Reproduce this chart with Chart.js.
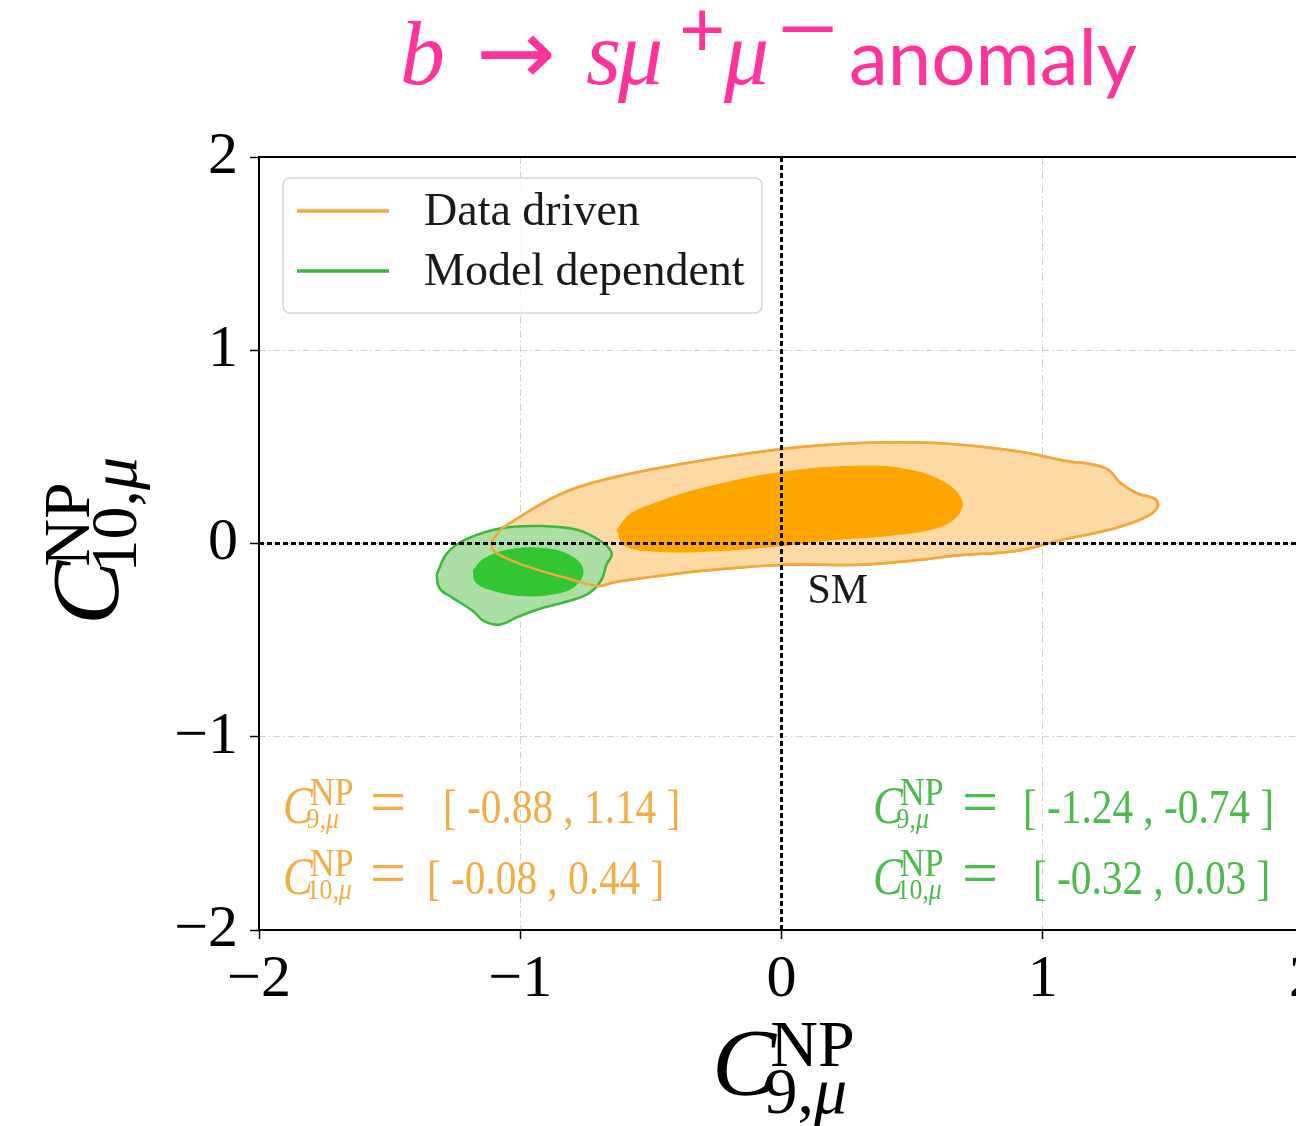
<!DOCTYPE html>
<html>
<head>
<meta charset="utf-8">
<script src="https://cdn.jsdelivr.net/npm/chart.js@4.4.1/dist/chart.umd.min.js"></script>
<style>
  html, body { margin: 0; padding: 0; background: #fff; overflow: hidden; }
  canvas { display: block; }
</style>
</head>
<body>
<canvas id="chart" width="1324" height="1126"></canvas>
<script>
// axis ticks
const xTicks = [-2, -1, 0, 1, 2];
const yTicks = [-2, -1, 0, 1, 2];

// legend entries
const seriesNames = ['Data driven', 'Model dependent'];

// data driven, 2 sigma contour
const orangeOuterX = [-1.07, -0.87, -0.68, -0.39, 0.01, 0.30, 0.59, 0.89, 1.08, 1.24, 1.30, 1.36, 1.43, 1.44, 1.40, 1.28, 1.08, 0.89, 0.69, 0.49, 0.30, 0.01, -0.29, -0.48, -0.64, -0.70, -0.82, -0.97, -1.09, -1.11, -1.07];
const orangeOuterY = [0.08, 0.24, 0.33, 0.41, 0.49, 0.52, 0.52, 0.48, 0.43, 0.39, 0.31, 0.26, 0.23, 0.19, 0.14, 0.08, 0.02, -0.04, -0.06, -0.09, -0.11, -0.11, -0.14, -0.17, -0.20, -0.22, -0.18, -0.12, -0.05, 0.00, 0.08];
// data driven, 1 sigma contour
const orangeInnerX = [-0.63, -0.58, -0.48, -0.29, 0.01, 0.30, 0.49, 0.63, 0.69, 0.67, 0.59, 0.40, 0.20, 0.01, -0.29, -0.48, -0.60, -0.63];
const orangeInnerY = [0.07, 0.15, 0.21, 0.29, 0.37, 0.40, 0.38, 0.31, 0.22, 0.14, 0.08, 0.04, 0.02, -0.01, -0.04, -0.04, -0.01, 0.07];
// model dependent, 2 sigma contour
const greenOuterX = [-1.32, -1.28, -1.21, -1.07, -0.91, -0.78, -0.69, -0.65, -0.67, -0.69, -0.74, -0.82, -0.93, -1.01, -1.08, -1.14, -1.18, -1.26, -1.31, -1.32];
const greenOuterY = [-0.16, -0.05, 0.02, 0.08, 0.09, 0.07, 0.01, -0.05, -0.11, -0.19, -0.26, -0.30, -0.34, -0.38, -0.42, -0.40, -0.35, -0.28, -0.23, -0.16];
// model dependent, 1 sigma contour
const greenInnerX = [-1.18, -1.14, -1.03, -0.89, -0.80, -0.76, -0.79, -0.87, -0.99, -1.11, -1.17, -1.18];
const greenInnerY = [-0.14, -0.08, -0.03, -0.03, -0.07, -0.14, -0.22, -0.26, -0.27, -0.24, -0.20, -0.14];

// fitted ranges printed in the plot
const orangeRanges = ['[ -0.88 , 1.14 ]', '[ -0.08 , 0.44 ]'];
const greenRanges = ['[ -1.24 , -0.74 ]', '[ -0.32 , 0.03 ]'];

const ORANGE = '#f2a93b';
const GREEN = '#3cb93c';
const SERIF = '"Liberation Serif", "DejaVu Serif", serif';

const pts = (xs, ys) => xs.map((x, i) => ({ x: x, y: ys[i] }));

function minus(v) {
  return v < 0 ? '\u2212' + Math.abs(v) : String(v);
}

// text squeezed horizontally by hs, returns drawn width
function txt(ctx, s, x, y, font, hs) {
  ctx.font = font;
  ctx.save();
  ctx.translate(x, y);
  ctx.scale(hs, 1);
  ctx.fillText(s, 0, 0);
  ctx.restore();
  return ctx.measureText(s).width * hs;
}

// C^NP_{sub,mu}
function drawCoef(ctx, x, y, sub, o) {
  ctx.fillStyle = o.color;
  ctx.textAlign = 'left';
  ctx.textBaseline = 'alphabetic';
  const w = txt(ctx, 'C', x, y, 'italic ' + o.c + 'px ' + SERIF, o.hs);
  txt(ctx, 'NP', x + w - o.c * 0.06, y - o.up, o.sup + 'px ' + SERIF, o.hs);
  let sx = x + w - o.c * 0.12;
  const sy = y + o.down;
  sx += txt(ctx, sub + ',', sx, sy, o.sub + 'px ' + SERIF, o.hs);
  txt(ctx, '\u03bc', sx, sy, 'italic ' + o.sub + 'px ' + SERIF, o.hs);
}

const decor = {
  id: 'decor',
  afterDraw(chart) {
    const ctx = chart.ctx;
    const a = chart.chartArea;
    const xs = chart.scales.x, ys = chart.scales.y;
    ctx.save();

    // frame
    ctx.strokeStyle = '#000';
    ctx.lineWidth = 2;
    ctx.strokeRect(a.left, a.top, a.right - a.left, a.bottom - a.top);

    // legend
    ctx.beginPath();
    ctx.roundRect(283, 178, 479, 135, 7);
    ctx.fillStyle = 'rgba(255,255,255,0.8)';
    ctx.fill();
    ctx.strokeStyle = '#d6d6d6';
    ctx.lineWidth = 1.5;
    ctx.stroke();
    [ORANGE, GREEN].forEach((col, i) => {
      const ly = 211 + i * 60;
      ctx.strokeStyle = col;
      ctx.lineWidth = 3.5;
      ctx.beginPath();
      ctx.moveTo(297, ly);
      ctx.lineTo(389, ly);
      ctx.stroke();
      ctx.fillStyle = '#1a1a1a';
      ctx.font = '46px ' + SERIF;
      ctx.textAlign = 'left';
      ctx.textBaseline = 'middle';
      ctx.fillText(seriesNames[i], 424, ly + 2);
    });

    // SM label
    ctx.fillStyle = '#1a1a1a';
    ctx.font = '42px ' + SERIF;
    ctx.textAlign = 'left';
    ctx.textBaseline = 'alphabetic';
    ctx.fillText('SM', xs.getPixelForValue(0) + 26, ys.getPixelForValue(0) + 59);

    // fitted ranges
    const rows = [823, 894];
    const subs = ['9', '10'];
    const small = { c: 52, sup: 40, sub: 30, hs: 0.86, up: 18, down: 5 };
    const oPos = [443, 427], gPos = [1023, 1033];
    rows.forEach((ry, i) => {
      drawCoef(ctx, 283, ry, subs[i], Object.assign({ color: '#f4ad45' }, small));
      txt(ctx, '=', 370, ry, '64px ' + SERIF, 1);
      txt(ctx, orangeRanges[i], oPos[i], ry, '48px ' + SERIF, 0.86);
      drawCoef(ctx, 873, ry, subs[i], Object.assign({ color: '#4cbb4c' }, small));
      txt(ctx, '=', 962, ry, '64px ' + SERIF, 1);
      txt(ctx, greenRanges[i], gPos[i], ry, '48px ' + SERIF, 0.86);
    });

    // axis titles
    const big = { c: 96, sup: 66, sub: 66, hs: 1, up: 29, down: 18, color: '#000' };
    drawCoef(ctx, 712, 1095, '9', big);
    ctx.save();
    ctx.translate(118, 625);
    ctx.rotate(-Math.PI / 2);
    drawCoef(ctx, 0, 0, '10', big);
    ctx.restore();

    // title
    ctx.fillStyle = '#ff3399';
    ctx.textAlign = 'left';
    ctx.textBaseline = 'alphabetic';
    ctx.font = 'italic 90px ' + SERIF;
    ctx.fillText('b', 400, 84);
    ctx.fillText('s', 586, 84);
    ctx.fillText('\u03bc', 618, 84);
    ctx.fillText('\u03bc', 724, 84);
    txt(ctx, '\u2192', 476, 84, '92px "DejaVu Sans"', 1.04);
    ctx.font = '80px Lato';
    ctx.fillText('+', 679, 57);
    txt(ctx, '\u2212', 774, 56, '80px Lato', 1.45);
    ctx.font = '78px Lato';
    ctx.fillText('anomaly', 849, 85);

    ctx.restore();
  }
};

const grid = {
  color: '#d2d2d2',
  lineWidth: 1,
  tickColor: '#000',
  tickLength: 9,
  tickWidth: 1.5
};

new Chart(document.getElementById('chart'), {
  type: 'scatter',
  data: {
    datasets: [
      {
        label: 'orange2', data: pts(orangeOuterX, orangeOuterY), order: 10,
        showLine: true, fill: 'shape', tension: 0.4, pointRadius: 0,
        backgroundColor: '#fdd9a4', borderColor: ORANGE, borderWidth: 2.5
      },
      {
        label: 'orange1', data: pts(orangeInnerX, orangeInnerY), order: 9,
        showLine: true, fill: 'shape', tension: 0.4, pointRadius: 0,
        backgroundColor: '#ffa500', borderColor: '#ffa500', borderWidth: 1
      },
      {
        label: 'green2', data: pts(greenOuterX, greenOuterY), order: 8,
        showLine: true, fill: 'shape', tension: 0.4, pointRadius: 0,
        backgroundColor: '#abdfa4', borderColor: GREEN, borderWidth: 2.5
      },
      {
        label: 'green1', data: pts(greenInnerX, greenInnerY), order: 7,
        showLine: true, fill: 'shape', tension: 0.4, pointRadius: 0,
        backgroundColor: '#33c633', borderColor: '#33c633', borderWidth: 1
      },
      {
        label: 'orange2 line', data: pts(orangeOuterX, orangeOuterY), order: 6,
        showLine: true, fill: false, tension: 0.4, pointRadius: 0,
        borderColor: ORANGE, borderWidth: 2.5
      },
      {
        label: 'SM x', data: [{ x: 0, y: yTicks[0] }, { x: 0, y: yTicks[yTicks.length - 1] }], order: 2,
        showLine: true, pointRadius: 0, borderColor: '#000', borderWidth: 3, borderDash: [5, 3]
      },
      {
        label: 'SM y', data: [{ x: xTicks[0], y: 0 }, { x: xTicks[xTicks.length - 1], y: 0 }], order: 1,
        showLine: true, pointRadius: 0, borderColor: '#000', borderWidth: 3, borderDash: [5, 3]
      }
    ]
  },
  options: {
    responsive: false,
    animation: false,
    events: [],
    layout: { padding: { top: 157, right: 0, left: 0, bottom: 0 } },
    plugins: { legend: { display: false }, tooltip: { enabled: false } },
    scales: {
      x: {
        type: 'linear',
        min: xTicks[0], max: xTicks[xTicks.length - 1],
        afterFit: s => { s.height = 196; },
        afterBuildTicks: s => { s.ticks = xTicks.map(v => ({ value: v })); },
        grid: grid,
        border: { display: false, dash: [7, 3, 1.5, 3] },
        ticks: {
          autoSkip: false, maxRotation: 0, padding: 5, color: '#000',
          font: { family: SERIF, size: 60 }, callback: v => minus(v)
        }
      },
      y: {
        type: 'linear',
        min: yTicks[0], max: yTicks[yTicks.length - 1],
        afterFit: s => { s.width = 259; },
        afterBuildTicks: s => { s.ticks = yTicks.map(v => ({ value: v })); },
        grid: grid,
        border: { display: false, dash: [7, 3, 1.5, 3] },
        ticks: {
          autoSkip: false, padding: 12, color: '#000',
          font: { family: SERIF, size: 60 }, callback: v => minus(v)
        }
      }
    }
  },
  plugins: [decor]
});
</script>
</body>
</html>
